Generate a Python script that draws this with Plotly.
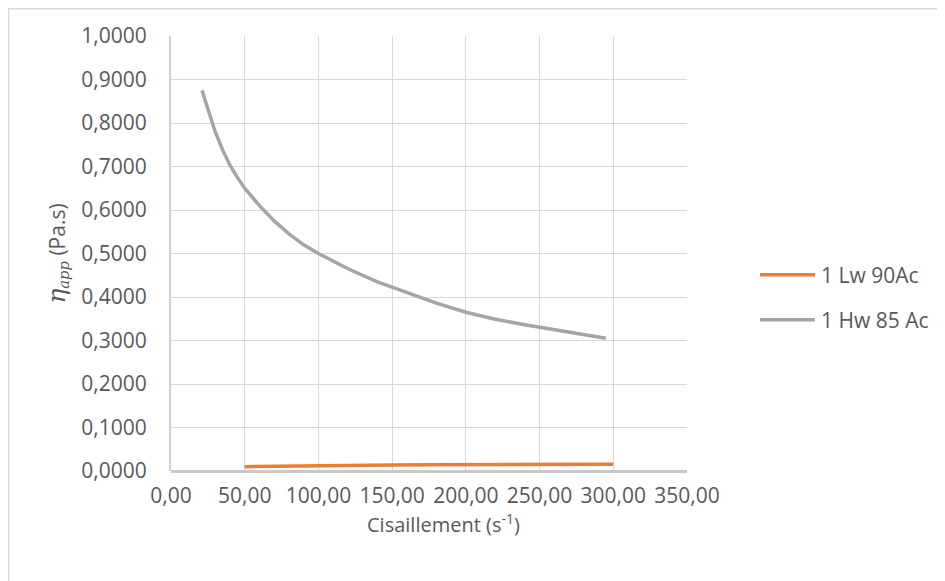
import plotly.graph_objects as go

# Data
lw_x = [50, 75, 100, 125, 150, 175, 200, 225, 250, 275, 300]
lw_y = [0.010, 0.0115, 0.0125, 0.0135, 0.014, 0.0145, 0.015, 0.015, 0.0155, 0.0155, 0.0155]

hw_x = [21, 25, 30, 35, 40, 45, 50, 60, 70, 80, 90, 100, 120, 140, 160, 180, 200, 220, 240, 260, 280, 295]
hw_y = [0.875, 0.83, 0.78, 0.738, 0.703, 0.675, 0.65, 0.61, 0.575, 0.545, 0.52, 0.50,
        0.465, 0.435, 0.41, 0.386, 0.365, 0.349, 0.336, 0.324, 0.313, 0.305]

series_names = ["1 Lw 90Ac", "1 Hw 85 Ac"]
series_colors = ["#ED7D31", "#A5A5A5"]
x_title = "Cisaillement (s<sup>-1</sup>)"

FONT = "Open Sans"
TXT = "#595959"
FS = 21

fig = go.Figure()
fig.add_trace(go.Scatter(x=lw_x, y=lw_y, mode="lines", name=series_names[0],
                         line=dict(color=series_colors[0], width=3.5), showlegend=False))
fig.add_trace(go.Scatter(x=hw_x, y=hw_y, mode="lines", name=series_names[1],
                         line=dict(color=series_colors[1], width=3.5), showlegend=False))

# plot area in reference pixel coordinates (page has an 8px body offset)
OFF = 8
PL, PR, PT, PB = 171, 687, 36, 471.5
L = PL - OFF
T = PT - OFF
pw = PR - PL
ph = PB - PT
R = 945 - L - pw
B = 581 - T - ph

def px2x(px):
    return (px - PL) / pw

def py2y(py):
    return (PB - py) / ph

# chart-area border
fig.add_shape(type="rect", xref="paper", yref="paper",
              x0=px2x(8.7), x1=px2x(970), y0=py2y(620), y1=py2y(8.7),
              line=dict(color="#D9D9D9", width=1.3), layer="below")

# legend (manual, to match the long legend keys)
legend_y = [275, 320]
for name, col, ly in zip(series_names, series_colors, legend_y):
    fig.add_shape(type="line", xref="paper", yref="paper",
                  x0=px2x(760), x1=px2x(815), y0=py2y(ly), y1=py2y(ly),
                  line=dict(color=col, width=3.5))
    fig.add_annotation(xref="paper", yref="paper", x=px2x(819), y=py2y(ly),
                       xanchor="left", yanchor="middle", showarrow=False,
                       text=name, font=dict(family=FONT, size=FS, color=TXT))

# x-axis title
fig.add_annotation(xref="paper", yref="paper", x=px2x(443), y=py2y(524),
                   xanchor="center", yanchor="middle", showarrow=False,
                   text=x_title, font=dict(family=FONT, size=20, color=TXT))

fig.update_layout(
    width=945, height=581,
    margin=dict(l=L, r=R, t=T, b=B),
    paper_bgcolor="white", plot_bgcolor="white",
    separators=", ",
    font=dict(family=FONT, color=TXT, size=FS),
    showlegend=False,
)
fig.update_xaxes(range=[0, 350], dtick=50, tick0=0, tickformat=".2f",
                 showgrid=True, gridcolor="#D9D9D9", gridwidth=1.3,
                 zeroline=False, showline=False, ticks="",
                 ticklabelstandoff=10,
                 tickfont=dict(size=FS, color=TXT))
fig.update_yaxes(range=[0, 1], dtick=0.1, tick0=0, tickformat=".4f",
                 showgrid=True, gridcolor="#D9D9D9", gridwidth=1.3,
                 zeroline=True, zerolinecolor="#C8C8C8", zerolinewidth=2.5,
                 showline=True, linecolor="#D0D0D0", linewidth=2, ticks="",
                 ticklabelstandoff=18,
                 tickfont=dict(size=FS, color=TXT),
                 title=dict(text="<span style='font-family:DejaVu Serif;font-style:italic;font-size:25px'>η</span><sub><span style='font-family:DejaVu Serif;font-style:italic'>app</span></sub> (Pa.s)",
                            font=dict(size=FS, color=TXT), standoff=10))

fig.write_html("out.html")
